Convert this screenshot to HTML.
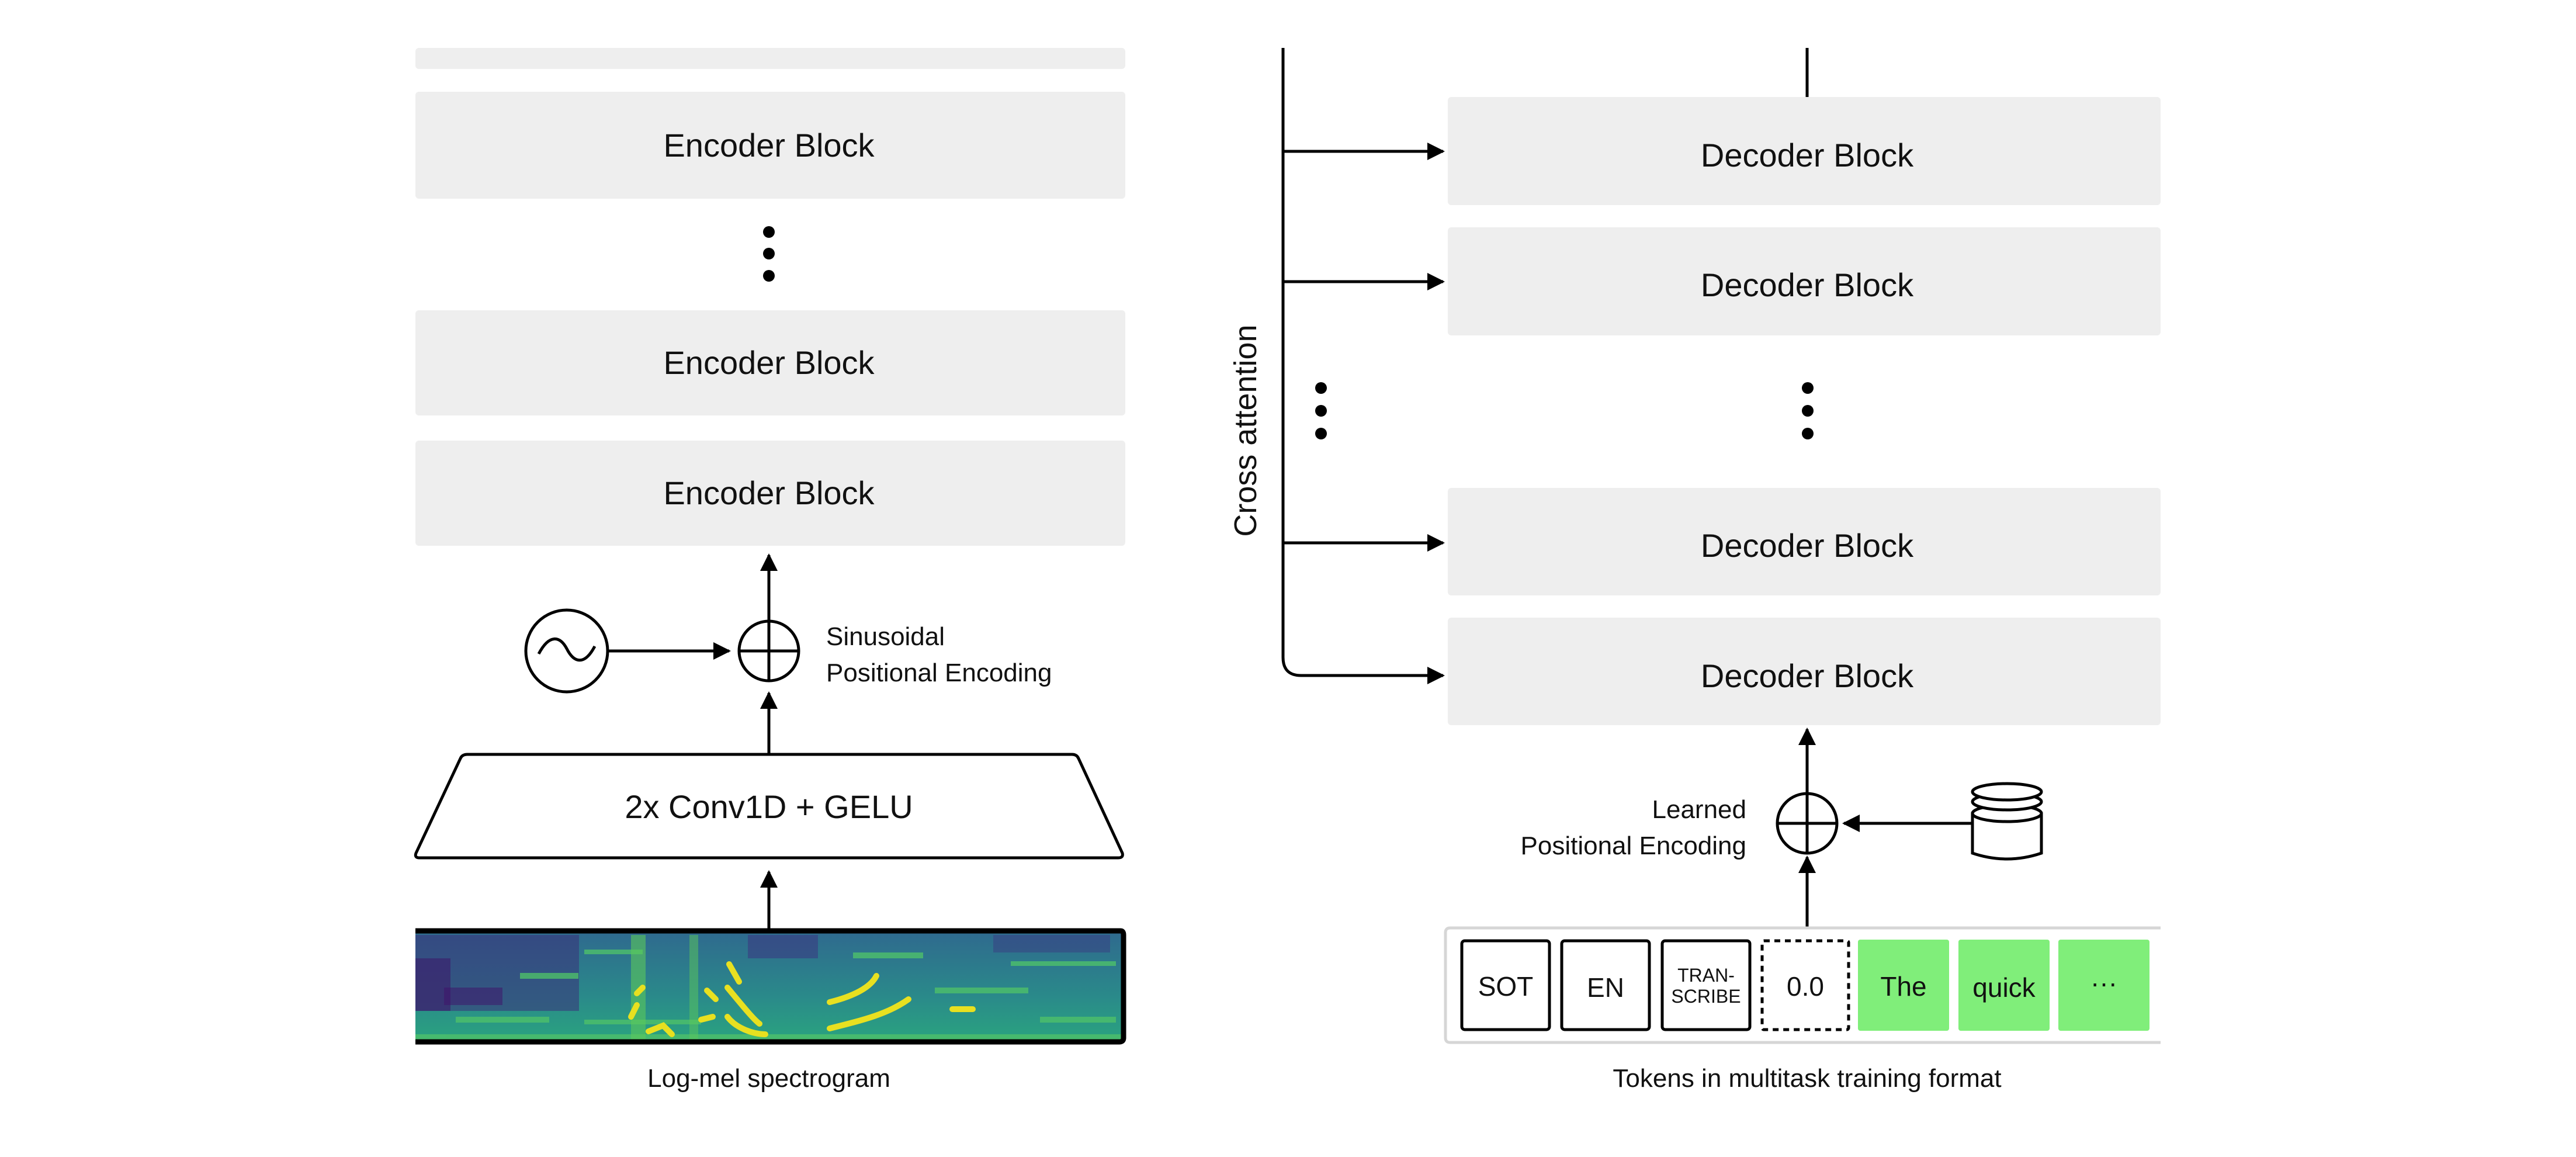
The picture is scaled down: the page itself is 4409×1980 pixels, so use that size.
<!DOCTYPE html>
<html><head><meta charset="utf-8"><style>
html,body{margin:0;padding:0;background:#fff;}
svg{display:block;}
text{font-family:"Liberation Sans",sans-serif;fill:#111;}
</style></head><body>
<svg width="4409" height="1980" viewBox="0 0 4409 1980" xmlns="http://www.w3.org/2000/svg">
<defs>
<marker id="ah" viewBox="0 0 10 10" refX="9" refY="5" markerWidth="30" markerHeight="30" orient="auto" markerUnits="userSpaceOnUse">
<path d="M0,0 L10,5 L0,10 z" fill="#000"/></marker>
<linearGradient id="spg" x1="0" y1="0" x2="0" y2="1">
<stop offset="0" stop-color="#2f6a8e"/><stop offset="0.6" stop-color="#2a8a8a"/><stop offset="1" stop-color="#2aa37f"/></linearGradient>
</defs>
<style>.a{stroke:#000;stroke-width:5;fill:none;}</style>

<!-- Encoder -->
<rect x="711" y="82" width="1215" height="36" rx="6" fill="#eeeeee"/>
<rect x="711" y="157" width="1215" height="183" rx="6" fill="#eeeeee"/>
<rect x="711" y="531" width="1215" height="180" rx="6" fill="#eeeeee"/>
<rect x="711" y="754" width="1215" height="180" rx="6" fill="#eeeeee"/>
<text x="1316" y="268" font-size="56" text-anchor="middle">Encoder Block</text>
<text x="1316" y="640" font-size="56" text-anchor="middle">Encoder Block</text>
<text x="1316" y="863" font-size="56" text-anchor="middle">Encoder Block</text>
<circle cx="1316" cy="397" r="10" fill="#000"/><circle cx="1316" cy="434" r="10" fill="#000"/><circle cx="1316" cy="472" r="10" fill="#000"/>

<line class="a" x1="1316" y1="1064" x2="1316" y2="950" marker-end="url(#ah)"/>
<circle cx="1316" cy="1114" r="51" stroke="#000" stroke-width="5" fill="none"/>
<line x1="1265" y1="1114" x2="1367" y2="1114" stroke="#000" stroke-width="5"/>
<line x1="1316" y1="1063" x2="1316" y2="1165" stroke="#000" stroke-width="5"/>
<circle cx="970" cy="1114" r="70" stroke="#000" stroke-width="5" fill="none"/>
<path d="M922,1119 C940,1085 958,1088 970,1110 C982,1134 1000,1140 1018,1106" stroke="#000" stroke-width="5" fill="none"/>
<line class="a" x1="1040" y1="1114" x2="1248" y2="1114" marker-end="url(#ah)"/>
<text x="1414" y="1104" font-size="44">Sinusoidal</text>
<text x="1414" y="1166" font-size="44">Positional Encoding</text>

<line class="a" x1="1316" y1="1291" x2="1316" y2="1186" marker-end="url(#ah)"/>
<path d="M800,1291 L1835,1291 Q1843,1291 1846,1298 L1921,1460 Q1923,1468 1914,1468 L718,1468 Q709,1468 712,1460 L788,1298 Q791,1291 800,1291 z" stroke="#000" stroke-width="5" fill="#fff"/>
<text x="1316" y="1400" font-size="56" text-anchor="middle">2x Conv1D + GELU</text>

<line class="a" x1="1316" y1="1589" x2="1316" y2="1492" marker-end="url(#ah)"/>
<!-- spectrogram -->
<g>
<rect x="711" y="1596" width="1212" height="184" fill="url(#spg)"/>
<rect x="711" y="1600" width="280" height="130" fill="#3b2f7a" opacity="0.55"/>
<rect x="711" y="1640" width="60" height="90" fill="#3c1a6a" opacity="0.6"/>
<rect x="760" y="1690" width="100" height="30" fill="#40106a" opacity="0.5"/>
<rect x="1280" y="1600" width="120" height="40" fill="#3b3080" opacity="0.5"/>
<rect x="1700" y="1600" width="200" height="30" fill="#3b3080" opacity="0.4"/>
<g fill="#4ec06a" opacity="0.8">
<rect x="780" y="1740" width="160" height="10"/><rect x="890" y="1665" width="100" height="10"/>
<rect x="1000" y="1625" width="100" height="8"/><rect x="1000" y="1745" width="200" height="8"/>
<rect x="1460" y="1630" width="120" height="10"/><rect x="1600" y="1690" width="160" height="10"/>
<rect x="1780" y="1740" width="130" height="10"/><rect x="1730" y="1645" width="180" height="8"/>
<rect x="711" y="1770" width="1212" height="10"/>
</g>
<rect x="1080" y="1600" width="25" height="180" fill="#5bc85a" opacity="0.6"/>
<rect x="1180" y="1600" width="15" height="180" fill="#5bc85a" opacity="0.5"/>
<g stroke="#e8e020" stroke-width="10" fill="none" stroke-linecap="round">
<path d="M1090,1700 L1100,1690"/><path d="M1110,1765 L1135,1755 L1150,1770"/>
<path d="M1210,1695 L1225,1710"/><path d="M1200,1745 L1220,1740"/>
<path d="M1245,1690 C1270,1720 1290,1745 1300,1752"/>
<path d="M1245,1740 C1260,1760 1290,1770 1310,1770"/>
<path d="M1248,1650 L1265,1680"/>
<path d="M1420,1760 C1480,1745 1520,1735 1555,1710"/>
<path d="M1420,1715 C1460,1705 1490,1690 1500,1670"/>
<path d="M1080,1740 L1090,1720" />
<path d="M1630,1727 L1665,1727"/>
</g>
<path d="M711,1593 L1918,1593 Q1923,1593 1923,1600 L1923,1776 Q1923,1783 1916,1783 L711,1783" stroke="#000" stroke-width="9" fill="none"/>
</g>
<text x="1316" y="1860" font-size="44" text-anchor="middle">Log-mel spectrogram</text>

<!-- Decoder -->
<path d="M2196,82 L2196,1125 Q2196,1156 2227,1156 L2470,1156" class="a" marker-end="url(#ah)"/>
<line class="a" x1="2196" y1="259" x2="2470" y2="259" marker-end="url(#ah)"/>
<line class="a" x1="2196" y1="482" x2="2470" y2="482" marker-end="url(#ah)"/>
<line class="a" x1="2196" y1="929" x2="2470" y2="929" marker-end="url(#ah)"/>
<line x1="3093" y1="82" x2="3093" y2="166" stroke="#000" stroke-width="5"/>
<text transform="translate(2150,737) rotate(-90)" font-size="54" text-anchor="middle">Cross attention</text>
<circle cx="2261" cy="664" r="10" fill="#000"/><circle cx="2261" cy="703" r="10" fill="#000"/><circle cx="2261" cy="742" r="10" fill="#000"/>
<circle cx="3094" cy="664" r="10" fill="#000"/><circle cx="3094" cy="703" r="10" fill="#000"/><circle cx="3094" cy="742" r="10" fill="#000"/>

<rect x="2478" y="166" width="1220" height="185" rx="6" fill="#eeeeee"/>
<rect x="2478" y="389" width="1220" height="185" rx="6" fill="#eeeeee"/>
<rect x="2478" y="835" width="1220" height="184" rx="6" fill="#eeeeee"/>
<rect x="2478" y="1057" width="1220" height="184" rx="6" fill="#eeeeee"/>
<text x="3093" y="285" font-size="56" text-anchor="middle">Decoder Block</text>
<text x="3093" y="507" font-size="56" text-anchor="middle">Decoder Block</text>
<text x="3093" y="953" font-size="56" text-anchor="middle">Decoder Block</text>
<text x="3093" y="1176" font-size="56" text-anchor="middle">Decoder Block</text>

<line class="a" x1="3093" y1="1357" x2="3093" y2="1248" marker-end="url(#ah)"/>
<circle cx="3093" cy="1409" r="51" stroke="#000" stroke-width="5" fill="none"/>
<line x1="3042" y1="1409" x2="3144" y2="1409" stroke="#000" stroke-width="5"/>
<line x1="3093" y1="1358" x2="3093" y2="1460" stroke="#000" stroke-width="5"/>
<line class="a" x1="3374" y1="1409" x2="3156" y2="1409" marker-end="url(#ah)"/>
<g stroke="#000" stroke-width="5" fill="#fff">
<path d="M3376,1390 L3376,1460 Q3435,1480 3494,1460 L3494,1390"/>
<ellipse cx="3435" cy="1392" rx="59" ry="14"/>
<ellipse cx="3435" cy="1372" rx="59" ry="14"/>
<ellipse cx="3435" cy="1355" rx="59" ry="14"/>
</g>
<text x="2989" y="1400" font-size="44" text-anchor="end">Learned</text>
<text x="2989" y="1462" font-size="44" text-anchor="end">Positional Encoding</text>

<line class="a" x1="3093" y1="1588" x2="3093" y2="1467" marker-end="url(#ah)"/>
<path d="M3698,1588 L2482,1588 Q2474,1588 2474,1596 L2474,1776 Q2474,1784 2482,1784 L3698,1784" stroke="#d6d6d6" stroke-width="5" fill="#fff"/>
<g stroke="#000" stroke-width="5" fill="#fff">
<rect x="2502" y="1610" width="150" height="152" rx="5"/>
<rect x="2673" y="1610" width="150" height="152" rx="5"/>
<rect x="2845" y="1610" width="150" height="152" rx="5"/>
<rect x="3016" y="1610" width="148" height="152" rx="3" stroke-dasharray="10,8"/>
</g>
<g fill="#80ee7a">
<rect x="3180" y="1608" width="156" height="156" rx="4"/>
<rect x="3352" y="1608" width="156" height="156" rx="4"/>
<rect x="3523" y="1608" width="156" height="156" rx="4"/>
</g>
<text x="2577" y="1704" font-size="46" text-anchor="middle">SOT</text>
<text x="2748" y="1706" font-size="46" text-anchor="middle">EN</text>
<text x="2920" y="1680" font-size="32" text-anchor="middle">TRAN-</text>
<text x="2920" y="1716" font-size="32" text-anchor="middle">SCRIBE</text>
<text x="3090" y="1704" font-size="46" text-anchor="middle">0.0</text>
<text x="3258" y="1704" font-size="46" text-anchor="middle">The</text>
<text x="3430" y="1706" font-size="46" text-anchor="middle">quick</text>
<text x="3601" y="1698" font-size="46" text-anchor="middle">···</text>
<text x="3093" y="1860" font-size="44" text-anchor="middle">Tokens in multitask training format</text>
</svg>
</body></html>
